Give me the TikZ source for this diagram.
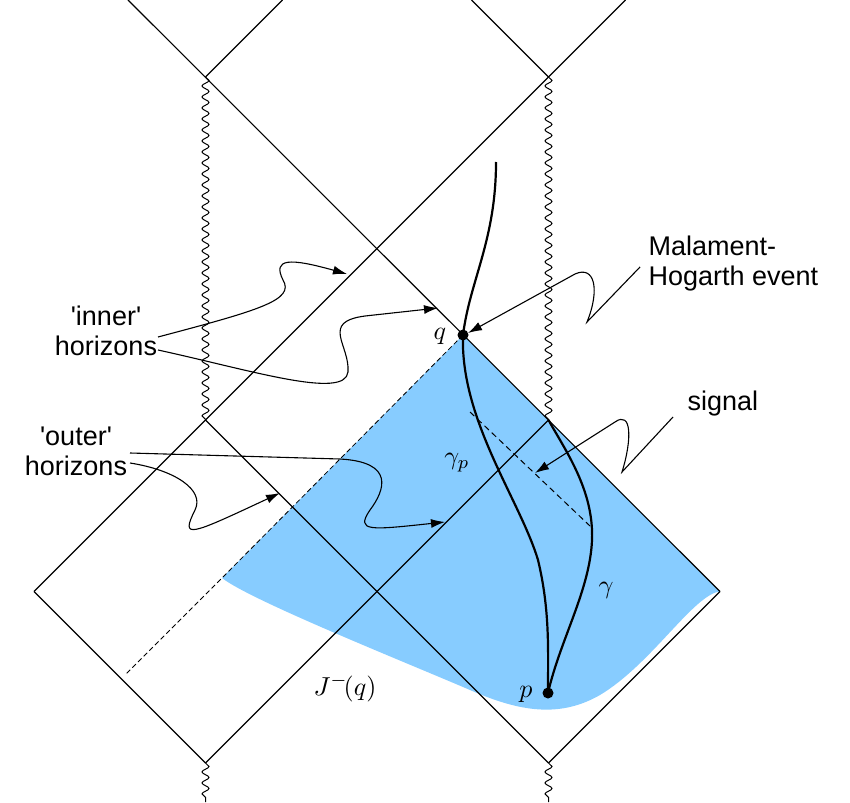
\documentclass[tikz,border=0pt]{standalone}
\usepackage{fontspec}
\setmainfont{Liberation Sans}
\usetikzlibrary{decorations.pathmorphing,arrows.meta}
\definecolor{jblue}{RGB}{135,204,255}
\newcommand{\mylbl}[1]{\scalebox{2.6}{$#1$}}
\begin{document}
\begin{tikzpicture}[x=1pt,y=-1pt,
  ln/.style={line width=1.1pt},
  wig/.style={line width=1pt,decorate,decoration={snake,segment length=11pt,amplitude=3.5pt}},
  wl/.style={line width=2.2pt},
  lab/.style={line width=1.1pt,-{Latex[length=14pt,width=9pt]}},
  txt/.style={font=\fontsize{27}{30}\selectfont,align=left},
  mth/.style={inner sep=1pt},
  dot/.style={circle,fill=black,inner sep=0pt,minimum size=11pt}]
\useasboundingbox (0,0) rectangle (850,802);
% fill
\fill[jblue] (463,335) -- (720,591.5) -- (717,592) .. controls (690,600) and (650,665) .. (600,695) .. controls (560,718) and (520,712) .. (470,690) .. controls (400,660) and (250,600) .. (222,578) -- cycle;
% coordinates
\coordinate (q) at (463,335);
\coordinate (p) at (548,693);
\coordinate (t1) at (205.5,77); \coordinate (t2) at (548.5,77);
\coordinate (m1) at (205.5,420); \coordinate (m2) at (548.5,420);
\coordinate (l) at (34,591.5); \coordinate (r) at (720,591.5);
\coordinate (b1) at (205.5,763); \coordinate (b2) at (548.5,763);
\coordinate (a1) at (128,0); \coordinate (a2) at (282.5,0);
\coordinate (a3) at (471.5,0); \coordinate (a4) at (625.5,0);
\coordinate (e1) at (205.5,802); \coordinate (e2) at (548.5,802);
\coordinate (d1) at (222,578); \coordinate (d2) at (125,675);
% lines
\draw[ln] (a1) -- (r);
\draw[ln] (a2) -- (t1);
\draw[ln] (a3) -- (t2);
\draw[ln] (a4) -- (l);
\draw[ln] (m1) -- (b2);
\draw[ln] (m2) -- (b1);
\draw[ln] (r) -- (b2);
\draw[ln] (l) -- (b1);
\draw[wig] (t1) -- (m1);
\draw[wig] (t2) -- (m2);
\draw[wig] (b1) -- (e1);
\draw[wig] (b2) -- (e2);
\draw[line width=0.8pt,dash pattern=on 5pt off 3pt] (q) -- (d1) -- (d2);
\coordinate (s1) at (470,412); \coordinate (s2) at (590,526);
\draw[line width=1pt,dash pattern=on 6pt off 4pt] (s1) -- (s2);
% worldlines
\coordinate (w0) at (496,162);
\draw[wl] (w0) .. controls (496,240) and (470,280) .. (q);
\draw[wl] (q) .. controls (460,420) and (520,500) .. (538,560) .. controls (550,610) and (548,650) .. (p);
\draw[wl] (p) .. controls (560,640) and (590,590) .. (592,540) .. controls (594,490) and (565,450) .. (m2);
\node[dot] (qd) at (q) {};
\node[dot] (pd) at (p) {};
% labels
\node[mth] (ql) at (440,336) {\mylbl{q}};
\node[mth] (pl) at (526,694) {\mylbl{p}};
\node[mth] (gp) at (457,463) {\mylbl{\gamma_p}};
\node[mth] (g) at (606,590) {\mylbl{\gamma}};
\node[mth] (J) at (345,688) {\mylbl{J^{-}\!(q)}};
\node[txt,anchor=west] (mh) at (645,264) {Malament-\\Hogarth event};
\node[txt,anchor=west] (sg) at (684,404) {signal};
\node[txt,align=center] (ih) at (106,331) {\textquotesingle inner\textquotesingle\\horizons};
\node[txt,align=center] (oh) at (76,451) {\textquotesingle outer\textquotesingle\\horizons};
% pointer curves
\coordinate (i1) at (158,337); \coordinate (i2) at (158,350);
\coordinate (it1) at (347,274); \coordinate (it2) at (438,308);
\draw[lab] (i1) .. controls (260,310) and (295,300) .. (283,280) .. controls (272,258) and (290,258) .. (it1);
\draw[lab] (i2) .. controls (250,370) and (345,400) .. (348,372) .. controls (350,345) and (320,322) .. (365,316) -- (it2);
\coordinate (o1) at (130,453); \coordinate (o2) at (130,463);
\coordinate (ot1) at (445,522); \coordinate (ot2) at (280,493);
\draw[lab] (o1) -- (340,459) .. controls (395,462) and (385,490) .. (370,510) .. controls (355,532) and (370,530) .. (ot1);
\draw[lab] (o2) .. controls (175,470) and (205,490) .. (195,510) .. controls (180,540) and (190,535) .. (ot2);
\coordinate (mm) at (640,267);
\draw[lab] (mm) -- (587,322) .. controls (600,290) and (595,265) .. (575,274) -- (468,333);
\coordinate (ss) at (673,417);
\draw[lab] (ss) -- (622,472) .. controls (632,440) and (632,410) .. (615,422) -- (535,473);
\end{tikzpicture}
\end{document}
